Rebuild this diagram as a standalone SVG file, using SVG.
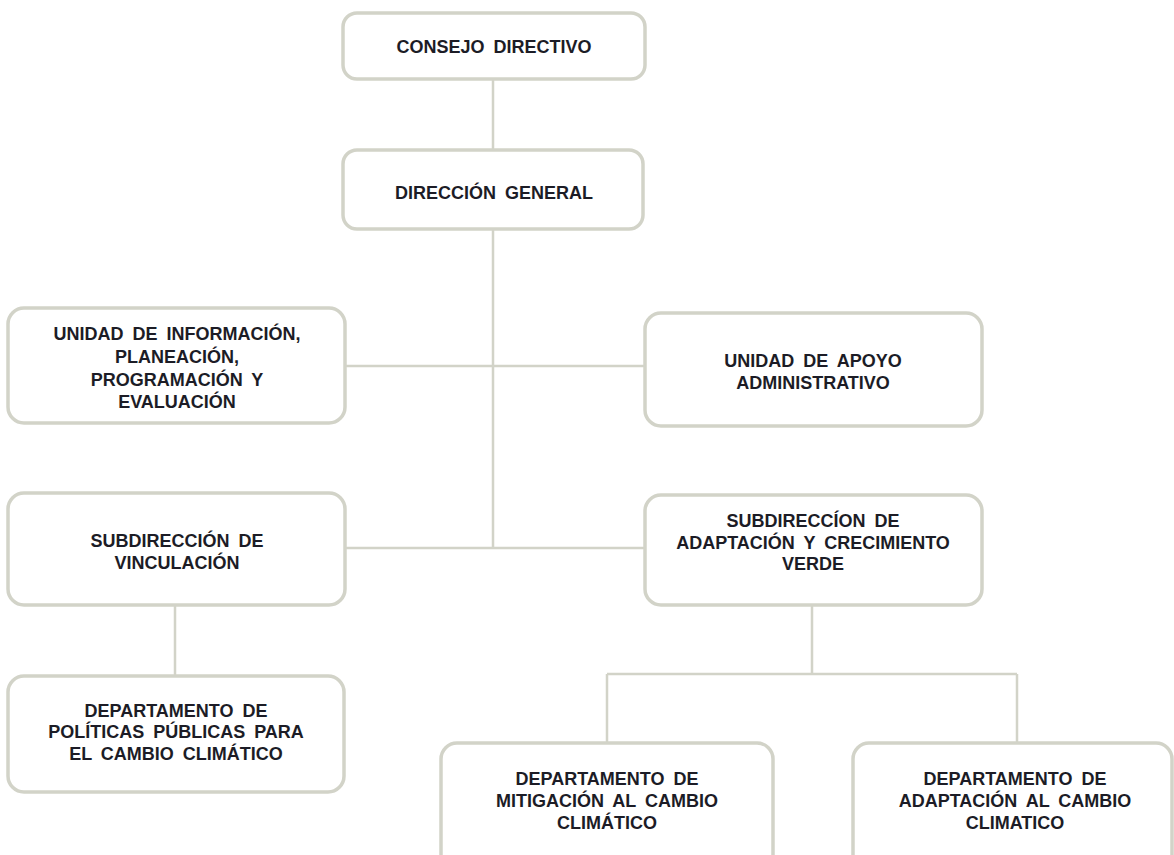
<svg xmlns="http://www.w3.org/2000/svg" width="1174" height="855" viewBox="0 0 1174 855">
<style>
.box{fill:#ffffff;stroke:#d2d3c8;stroke-width:3.5}
.ln{fill:none;stroke:#d2d3c8;stroke-width:2.5}
text{font-family:"Liberation Sans",Arial,sans-serif;font-weight:bold;font-size:18px;fill:#1c1c26;text-anchor:middle;word-spacing:4px}
</style>
<rect width="1174" height="855" fill="#ffffff"/>
<g id="connectors">
<path class="ln" d="M493 79V150M493 229V548M345 366H645M345 548H645M175 605V676M812 605V674M607 674H1017M607 674V743M1017 674V743"/>
</g>
<g id="n-consejo">
<rect class="box" x="343" y="13" width="302" height="66" rx="14"/>
<text x="494" y="53">CONSEJO DIRECTIVO</text>
</g>
<g id="n-direccion">
<rect class="box" x="343" y="150" width="300" height="79" rx="14"/>
<text x="494" y="199">DIRECCIÓN GENERAL</text>
</g>
<g id="n-unidad-info">
<rect class="box" x="8" y="308" width="337" height="115" rx="16"/>
<text x="177" y="340">UNIDAD DE INFORMACIÓN,</text>
<text x="177" y="363">PLANEACIÓN,</text>
<text x="177" y="386">PROGRAMACIÓN Y</text>
<text x="177" y="408">EVALUACIÓN</text>
</g>
<g id="n-unidad-apoyo">
<rect class="box" x="645" y="313" width="337" height="113" rx="16"/>
<text x="813" y="367">UNIDAD DE APOYO</text>
<text x="813" y="389">ADMINISTRATIVO</text>
</g>
<g id="n-sub-vinculacion">
<rect class="box" x="8" y="493" width="337" height="112" rx="16"/>
<text x="177" y="547">SUBDIRECCIÓN DE</text>
<text x="177" y="569">VINCULACIÓN</text>
</g>
<g id="n-sub-adaptacion">
<rect class="box" x="645" y="495" width="337" height="110" rx="16"/>
<text x="813" y="527">SUBDIRECCÍON DE</text>
<text x="813" y="549">ADAPTACIÓN Y CRECIMIENTO</text>
<text x="813" y="570">VERDE</text>
</g>
<g id="n-dep-politicas">
<rect class="box" x="8" y="676" width="336" height="116" rx="16"/>
<text x="176" y="717">DEPARTAMENTO DE</text>
<text x="176" y="738">POLÍTICAS PÚBLICAS PARA</text>
<text x="176" y="760">EL CAMBIO CLIMÁTICO</text>
</g>
<g id="n-dep-mitigacion">
<rect class="box" x="441" y="743" width="332" height="130" rx="16"/>
<text x="607" y="785">DEPARTAMENTO DE</text>
<text x="607" y="807">MITIGACIÓN AL CAMBIO</text>
<text x="607" y="829">CLIMÁTICO</text>
</g>
<g id="n-dep-adaptacion">
<rect class="box" x="853" y="743" width="319" height="130" rx="16"/>
<text x="1015" y="785">DEPARTAMENTO DE</text>
<text x="1015" y="807">ADAPTACIÓN AL CAMBIO</text>
<text x="1015" y="829">CLIMATICO</text>
</g>
</svg>
